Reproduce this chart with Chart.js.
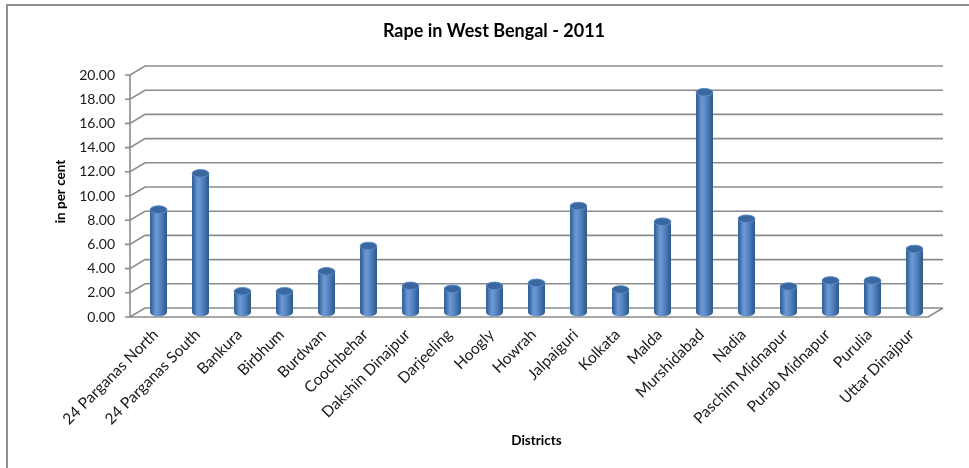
<!DOCTYPE html>
<html>
<head>
	<meta charset="UTF-8">
	<title>Rape in West Bengal - 2011</title>
	<script src="https://cdn.jsdelivr.net/npm/chart.js"></script>
	<style>
		body { margin: 0; background: #fff; overflow: hidden; }
		.wrap { position: relative; width: 969px; height: 468px; }
		.frame { position: absolute; left: 6px; top: 4px; width: 1000px; height: 500px;
			border-left: 2px solid #8f8f8f; border-top: 2px solid #8f8f8f; }
		canvas { position: absolute; left: 0; top: 0; }
	</style>
</head>
<body>
	<div class="wrap">
		<div class="frame"></div>
		<canvas id="chart" width="969" height="468"></canvas>
	</div>

	<script>
		// districts and their share (per cent)
		const districts = ['24 Parganas North', '24 Parganas South', 'Bankura', 'Birbhum', 'Burdwan',
			'Coochbehar', 'Dakshin Dinajpur', 'Darjeeling', 'Hoogly', 'Howrah', 'Jalpaiguri', 'Kolkata',
			'Malda', 'Murshidabad', 'Nadia', 'Paschim Midnapur', 'Purab Midnapur', 'Purulia', 'Uttar Dinajpur'];
		const percent = [8.5, 11.5, 1.75, 1.75, 3.4, 5.5, 2.2, 1.95, 2.2, 2.45, 8.8, 1.9,
			7.5, 18.2, 7.75, 2.15, 2.65, 2.65, 5.25];
		const yTicks = [0, 2, 4, 6, 8, 10, 12, 14, 16, 18, 20];

		// half of the depth shift between the front and back wall
		const DX = 7.5, DY = 4.5;

		// draws the 3d-ish walls and floor, then shades the bars as cylinders
		const walls = {
			id: 'walls',
			beforeDatasetsDraw(chart) {
				const c = chart.ctx, a = chart.chartArea, y = chart.scales.y;
				c.save();
				c.strokeStyle = '#8c8c8c';
				c.lineWidth = 1.6;
				c.beginPath();
				yTicks.forEach(v => {
					const py = y.getPixelForValue(v);
					c.moveTo(a.left - DX - 5, py + DY);
					c.lineTo(a.left - DX, py + DY);
					c.lineTo(a.left + DX, py - DY);
					c.lineTo(a.right + DX, py - DY);
				});
				c.moveTo(a.left - DX, y.getPixelForValue(20) + DY);
				c.lineTo(a.left - DX, a.bottom + DY);
				c.lineTo(a.right - DX, a.bottom + DY);
				c.lineTo(a.right + DX, a.bottom - DY);
				c.stroke();
				c.restore();
			},
			afterDatasetsDraw(chart) {
				const c = chart.ctx;
				chart.getDatasetMeta(0).data.forEach(el => {
					const w = el.width, l = el.x - w / 2, r = el.x + w / 2;
					const ry = 3.8;
					const g = c.createLinearGradient(l, 0, r, 0);
					g.addColorStop(0, '#2d5b93');
					g.addColorStop(0.35, '#6b9ad6');
					g.addColorStop(0.55, '#5b8bcb');
					g.addColorStop(1, '#2b5889');
					c.save();
					c.fillStyle = g;
					c.beginPath();
					c.moveTo(l, el.y);
					c.lineTo(l, el.base);
					c.ellipse(el.x, el.base, w / 2, ry, 0, Math.PI, 0, true);
					c.lineTo(r, el.y);
					c.closePath();
					c.fill();
					c.beginPath();
					c.ellipse(el.x, el.y, w / 2, ry, 0, 0, Math.PI * 2);
					c.fillStyle = '#3a679f';
					c.fill();
					c.strokeStyle = '#5c8bc6';
					c.lineWidth = 1;
					c.stroke();
					c.restore();
				});
			}
		};

		Chart.defaults.font.family = 'Lato';
		Chart.defaults.color = '#1a1a1a';

		new Chart(document.getElementById('chart'), {
			type: 'bar',
			data: {
				labels: districts,
				datasets: [{
					data: percent,
					backgroundColor: '#4f81bd',
					categoryPercentage: 1,
					barPercentage: 0.4
				}]
			},
			options: {
				responsive: false,
				animation: false,
				layout: { padding: { left: 52.5, right: 33.5, top: 0, bottom: 0 } },
				plugins: {
					legend: { display: false },
					tooltip: { enabled: false },
					title: {
						display: true,
						text: 'Rape in West Bengal - 2011',
						color: '#000',
						font: { size: 18, weight: 'bold' },
						padding: { top: 20.2, bottom: 28.7 }
					}
				},
				scales: {
					x: {
						grid: { display: false, drawTicks: false },
						border: { display: false },
						ticks: { autoSkip: false, minRotation: 45, maxRotation: 45, padding: 13,
							labelOffset: -3, font: { size: 15.5 } },
						title: { display: true, text: 'Districts', color: '#000',
							font: { size: 13.5, weight: 'bold' }, padding: { top: 0, bottom: 19 } },
						afterFit(s) { s.height = 155.5; }
					},
					y: {
						min: 0,
						max: 20,
						grid: { display: false, drawTicks: false },
						border: { display: false },
						afterBuildTicks(s) { s.ticks = yTicks.map(v => ({ value: v })); },
						ticks: { padding: 22.5, labelOffset: 4.5, font: { size: 14 },
							callback: v => Number(v).toFixed(2) },
						title: { display: true, text: 'in per cent', color: '#000',
							font: { size: 13.5, weight: 'bold' }, padding: { top: 0, bottom: 0 } },
						afterFit(s) { s.width = 85; }
					}
				}
			},
			plugins: [walls]
		});
	</script>
</body>
</html>
